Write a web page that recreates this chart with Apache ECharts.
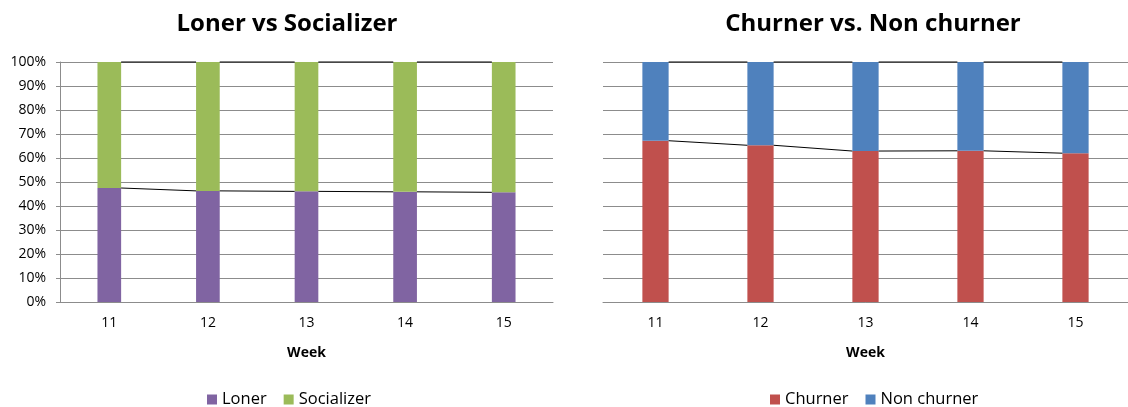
<!DOCTYPE html>
<html>
<head>
<meta charset="utf-8">
<script src="https://cdn.jsdelivr.net/npm/echarts@6/dist/echarts.min.js"></script>
<style>
  html, body { margin: 0; padding: 0; background: #fff; }
  #chart { width: 1128px; height: 407px; }
</style>
</head>
<body>
<div id="chart"></div>
<script>
var weeks = ['11', '12', '13', '14', '15']
var loner = [47.5, 46.3, 46.1, 45.9, 45.7]
var socializer = [52.5, 53.7, 53.9, 54.1, 54.3]
var churner = [67.2, 65.3, 62.9, 63.0, 62.0]
var nonChurner = [32.8, 34.7, 37.1, 37.0, 38.0]

var FONT = 'Open Sans'
var gridColor = '#8c8c8c'

// excel style "series lines": join the bar tops from right edge to next left edge
function seriesLines(bottom, top, xi, yi, ratio) {
  var data = []
  for (var i = 0; i < bottom.length - 1; i++) {
    data.push([i, bottom[i], bottom[i + 1], bottom[i] + top[i], bottom[i + 1] + top[i + 1]])
  }
  return {
    type: 'custom',
    xAxisIndex: xi,
    yAxisIndex: yi,
    silent: true,
    z: 5,
    data: data,
    renderItem: function (params, api) {
      var i = api.value(0)
      var half = api.size([1, 0])[0] * ratio / 2
      var a1 = api.coord([i, api.value(1)])
      var a2 = api.coord([i + 1, api.value(2)])
      var b1 = api.coord([i, api.value(3)])
      var b2 = api.coord([i + 1, api.value(4)])
      var st = { stroke: '#000', lineWidth: 1 }
      return {
        type: 'group',
        children: [
          { type: 'line', shape: { x1: a1[0] + half, y1: a1[1], x2: a2[0] - half, y2: a2[1] }, style: st },
          { type: 'line', shape: { x1: b1[0] + half, y1: b1[1], x2: b2[0] - half, y2: b2[1] }, style: st }
        ]
      }
    }
  }
}

function xAxis(gi) {
  return {
    type: 'category',
    gridIndex: gi,
    data: weeks,
    name: 'Week',
    nameLocation: 'middle',
    nameGap: 44,
    nameTextStyle: { fontFamily: FONT, fontWeight: 'bold', fontSize: 14, color: '#000' },
    axisLine: { lineStyle: { color: gridColor } },
    axisTick: { show: false },
    axisLabel: { fontFamily: FONT, fontSize: 14, color: '#000', margin: 14 }
  }
}

function yAxis(gi, showLabels) {
  return {
    type: 'value',
    gridIndex: gi,
    min: 0,
    max: 100,
    interval: 10,
    axisLine: { show: showLabels, lineStyle: { color: gridColor } },
    axisTick: { show: showLabels, length: 4, lineStyle: { color: gridColor } },
    axisLabel: { show: showLabels, formatter: '{value}%', fontFamily: FONT, fontSize: 14, color: '#000', margin: 14 },
    splitLine: { lineStyle: { color: gridColor } }
  }
}

var chart = echarts.init(document.getElementById('chart'))
var option = {
  animation: false,
  backgroundColor: '#fff',
  title: [
    { text: 'Loner vs Socializer', left: 282, top: 7, textAlign: 'center',
      textStyle: { fontFamily: FONT, fontSize: 24, fontWeight: 'bold', color: '#000' } },
    { text: 'Churner vs. Non churner', left: 868, top: 7, textAlign: 'center',
      textStyle: { fontFamily: FONT, fontSize: 24, fontWeight: 'bold', color: '#000' } }
  ],
  legend: [
    { data: ['Loner', 'Socializer'], left: 202, top: 386, itemWidth: 10, itemHeight: 10, itemGap: 17, icon: 'rect',
      textStyle: { fontFamily: FONT, fontSize: 16.5, color: '#000' } },
    { data: ['Churner', 'Non churner'], left: 765, top: 386, itemWidth: 10, itemHeight: 10, itemGap: 17, icon: 'rect',
      textStyle: { fontFamily: FONT, fontSize: 16.5, color: '#000' } }
  ],
  grid: [
    { left: 60, right: 575, top: 62, bottom: 105 },
    { left: 603, right: -4, top: 62, bottom: 105 }
  ],
  xAxis: [xAxis(0), xAxis(1)],
  yAxis: [yAxis(0, true), yAxis(1, false)],
  series: [
    { name: 'Loner', type: 'bar', stack: 'a', xAxisIndex: 0, yAxisIndex: 0, barWidth: '24%',
      itemStyle: { color: '#8064A2' }, data: loner },
    { name: 'Socializer', type: 'bar', stack: 'a', xAxisIndex: 0, yAxisIndex: 0, barWidth: '24%',
      itemStyle: { color: '#9BBB59' }, data: socializer },
    { name: 'Churner', type: 'bar', stack: 'b', xAxisIndex: 1, yAxisIndex: 1, barWidth: '25%',
      itemStyle: { color: '#C0504D' }, data: churner },
    { name: 'Non churner', type: 'bar', stack: 'b', xAxisIndex: 1, yAxisIndex: 1, barWidth: '25%',
      itemStyle: { color: '#4F81BD' }, data: nonChurner },
    seriesLines(loner, socializer, 0, 0, 0.24),
    seriesLines(churner, nonChurner, 1, 1, 0.25)
  ]
}
chart.setOption(option)
</script>
</body>
</html>
